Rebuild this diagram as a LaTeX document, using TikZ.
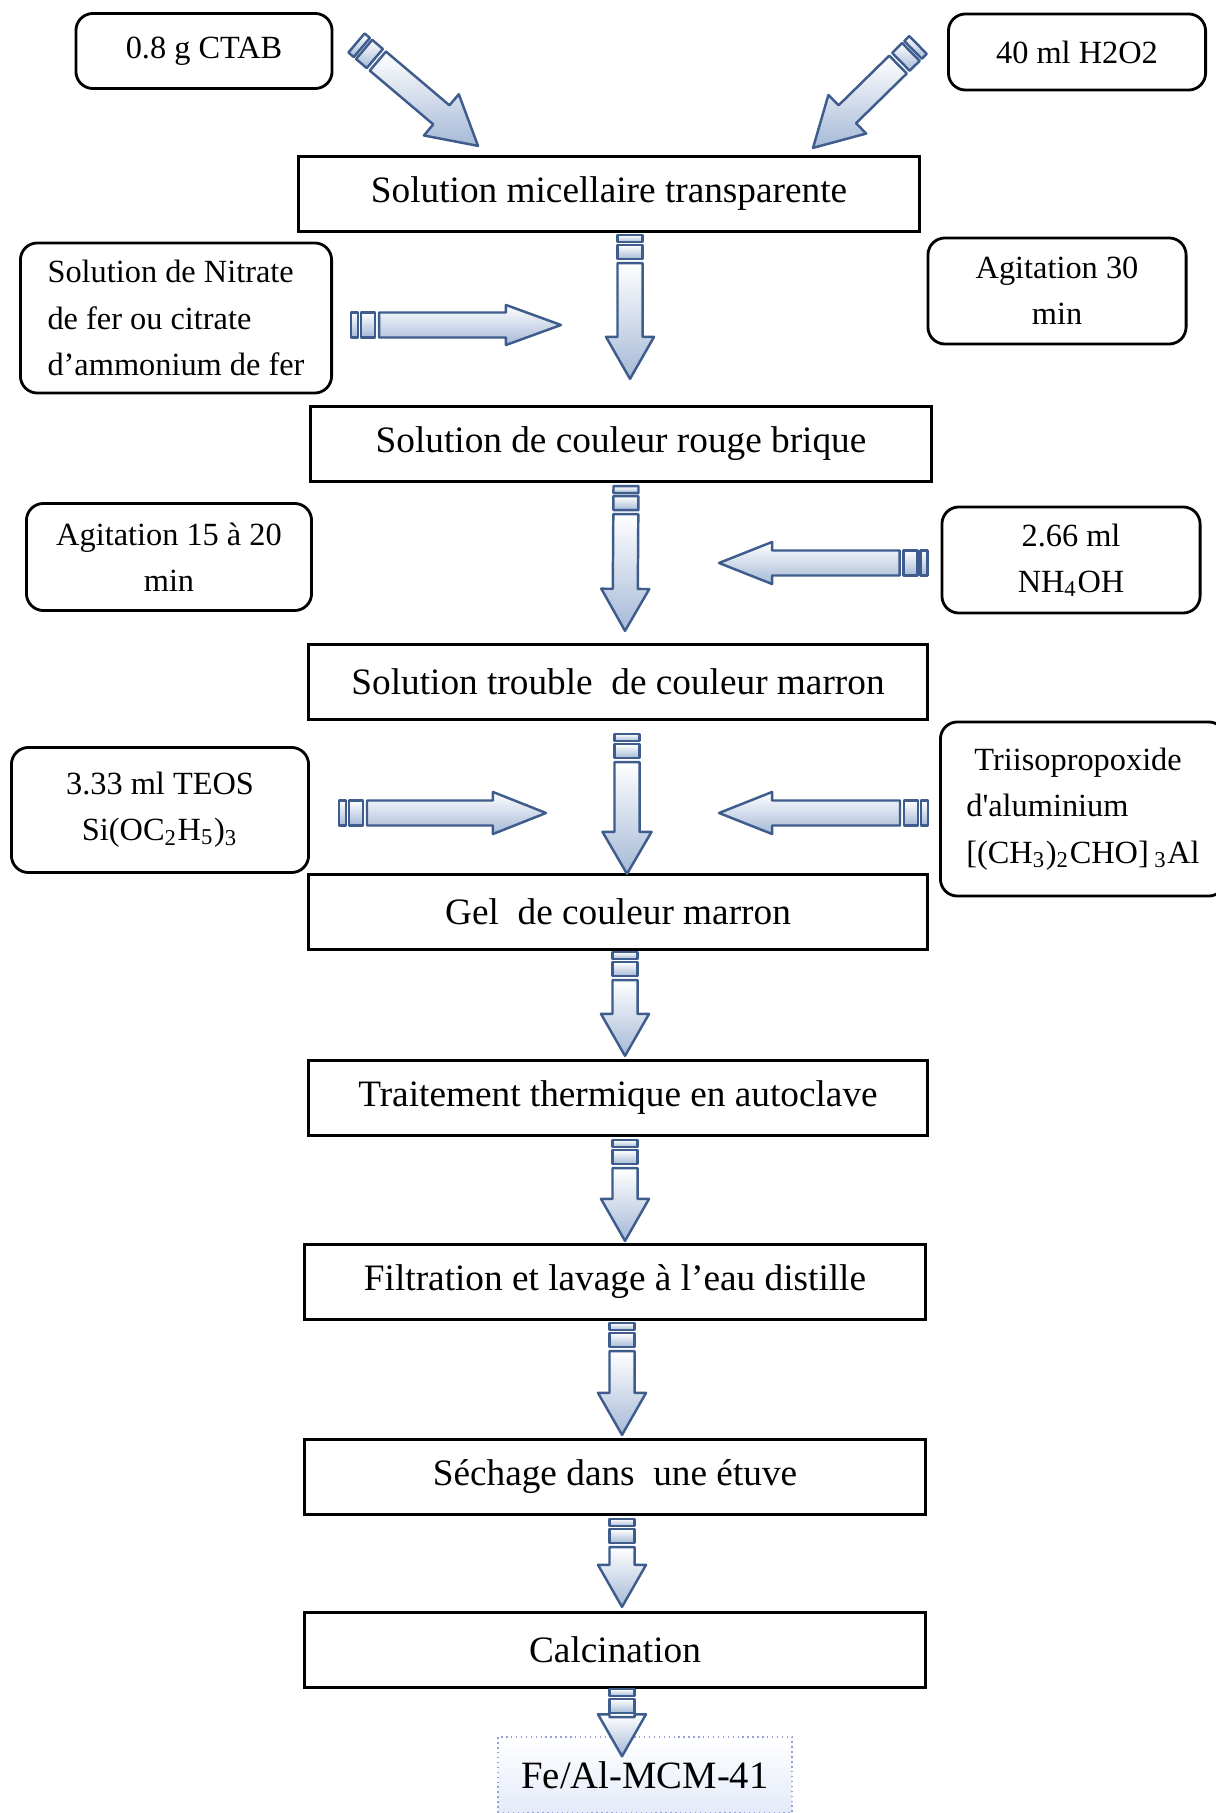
\documentclass[tikz,border=0pt]{standalone}
\usepackage{fontspec}
\setmainfont{Liberation Serif}
\usetikzlibrary{calc}
\definecolor{bordfleche}{RGB}{62,92,140}
\definecolor{fondfleche}{RGB}{165,185,215}
\definecolor{fondfinal}{RGB}{228,234,248}
\definecolor{bordfinal}{RGB}{150,160,215}

% #1 head length, #2 head half width, #3 tail, #4 tip
\newcommand{\fleche}[4][0.42cm]{%
  \coordinate (fa) at #3;
  \coordinate (fb) at #4;
  \draw[fleche] ($(fa)!0.125cm!90:(fb)$) -- ($(fa)!0.07cm!(fb)!0.125cm!90:(fb)$)
    -- ($(fa)!0.07cm!(fb)!0.125cm!-90:(fb)$) -- ($(fa)!0.125cm!-90:(fb)$) -- cycle;
  \draw[fleche] ($(fa)!0.10cm!(fb)!0.125cm!90:(fb)$) -- ($(fa)!0.24cm!(fb)!0.125cm!90:(fb)$)
    -- ($(fa)!0.24cm!(fb)!0.125cm!-90:(fb)$) -- ($(fa)!0.10cm!(fb)!0.125cm!-90:(fb)$) -- cycle;
  \draw[fleche] ($(fa)!0.28cm!(fb)!0.125cm!90:(fb)$) -- ($(fb)!#1!(fa)!0.125cm!-90:(fa)$)
    -- ($(fb)!#1!(fa)!#2!-90:(fa)$) -- (fb) -- ($(fb)!#1!(fa)!#2!90:(fa)$)
    -- ($(fb)!#1!(fa)!0.125cm!90:(fa)$) -- ($(fa)!0.28cm!(fb)!0.125cm!-90:(fb)$) -- cycle;
}

\begin{document}
\begin{tikzpicture}[x=0.01cm,y=-0.01cm,
  etape/.style={draw, line width=0.9pt, minimum width=6.2cm, minimum height=0.75cm,
    font=\fontsize{10.6}{13}\selectfont},
  ajout/.style={draw, line width=0.8pt, rounded corners=0.17cm, align=center,
    font=\fontsize{9.2}{13.2}\selectfont},
  final/.style={draw=bordfinal, densely dotted, top color=white, bottom color=fondfinal,
    minimum width=2.94cm, minimum height=0.76cm, font=\fontsize{11}{13}\selectfont},
  fleche/.style={draw=bordfleche, line width=0.7pt, line join=round,
    top color=white, bottom color=fondfleche}]
\useasboundingbox (0,0) rectangle (1215,1813);

\node[ajout, minimum width=2.56cm, minimum height=0.75cm] (ctab) at (204,51) {0.8 g CTAB};
\node[ajout, minimum width=2.57cm, minimum height=0.76cm] (hdeux) at (1077,52) {40 ml H2O2};
\node[etape] (micel) at (609,194) {Solution micellaire transparente};

\node[ajout, minimum width=3.11cm, minimum height=1.5cm, align=left] (nitrate) at (176,318)
  {Solution de Nitrate\\de fer ou citrate\\d’ammonium de fer};
\node[ajout, minimum width=2.58cm, minimum height=1.06cm] (agittrente) at (1057,291)
  {Agitation 30\\min};
\node[etape] (brique) at (621,444) {Solution de couleur rouge brique};

\node[ajout, minimum width=2.85cm, minimum height=1.07cm] (agitquinze) at (169,557)
  {Agitation 15 à 20\\min};
\node[ajout, minimum width=2.58cm, minimum height=1.06cm] (ammoniac) at (1071,560)
  {2.66 ml\\NH\textsubscript{4}OH};
\node[etape, minimum width=6.18cm] (trouble) at (618,682) {Solution trouble\ \ de couleur marron};

\node[ajout, minimum width=2.97cm, minimum height=1.25cm] (teos) at (160,810)
  {3.33 ml TEOS\\Si(OC\textsubscript{2}H\textsubscript{5})\textsubscript{3}};
\node[ajout, minimum width=2.85cm, minimum height=1.74cm, align=left] (triiso) at (1083,809)
  {\ Triisopropoxide\\d\textquotesingle aluminium\\{[}(CH\textsubscript{3})\textsubscript{2}CHO{]}\,\textsubscript{3}Al};
\node[etape, minimum width=6.18cm] (gel) at (618,912) {Gel\ \ de couleur marron};

\node[etape, minimum width=6.18cm] (traite) at (618,1098) {Traitement thermique en autoclave};
\node[etape] (filtra) at (615,1282) {Filtration et lavage à l’eau distille};
\node[etape] (seche) at (615,1477) {Séchage dans\ \ une étuve};
\node[etape] (calcin) at (615,1650) {Calcination};
\node[final] (produit) at (645,1775) {Fe/Al-MCM-41};

\coordinate (cnitrate) at (561,325);
\coordinate (cammoniac) at (719,563);
\coordinate (cteos) at (546,813);
\coordinate (ctriiso) at (719,813);

\fleche[0.48cm]{0.27cm}{($(ctab.east)+(23,-8)$)}{($(micel.north)+(-131,-9)$)}
\fleche[0.48cm]{0.27cm}{($(hdeux.west)+(-29,-7)$)}{($(micel.north)+(204,-7)$)}
\fleche{0.24cm}{($(micel.south)+(21,2)$)}{($(brique.north)+(9,-26)$)}
\fleche[0.55cm]{0.2cm}{($(nitrate.east)+(18,7)$)}{(cnitrate)}
\fleche{0.24cm}{($(brique.south)+(5,3)$)}{($(trouble.north)+(7,-12)$)}
\fleche[0.53cm]{0.21cm}{($(ammoniac.west)+(-13,3)$)}{(cammoniac)}
\fleche{0.245cm}{($(trouble.south)+(9,13)$)}{($(gel.north)+(9,1)$)}
\fleche[0.53cm]{0.21cm}{($(teos.east)+(29,3)$)}{(cteos)}
\fleche[0.53cm]{0.21cm}{($(triiso.west)+(-11,4)$)}{(ctriiso)}
\fleche{0.24cm}{($(gel.south)+(7,1)$)}{($(traite.north)+(7,-3)$)}
\fleche{0.24cm}{($(traite.south)+(7,3)$)}{($(filtra.north)+(10,-2)$)}
\fleche{0.24cm}{($(filtra.south)+(7,2)$)}{($(seche.north)+(7,-3)$)}
\fleche{0.24cm}{($(seche.south)+(7,3)$)}{($(calcin.north)+(7,-4)$)}
\fleche{0.24cm}{($(calcin.south)+(7,0)$)}{($(produit.north)+(-23,20)$)}
\end{tikzpicture}
\end{document}
